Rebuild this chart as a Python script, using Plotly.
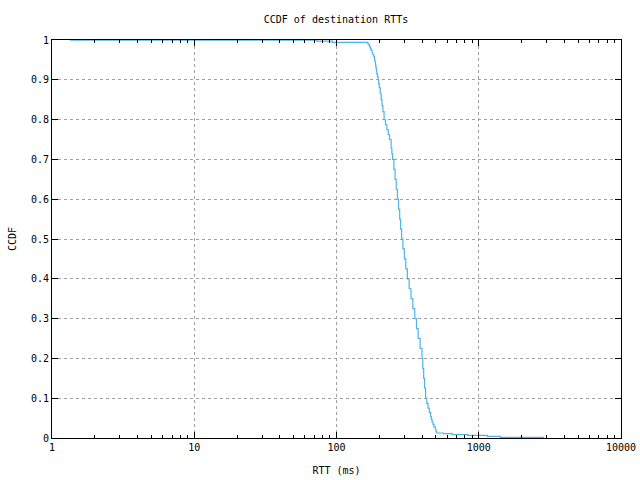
import plotly.graph_objects as go

# RTT (ms) at which the CCDF steps down to the value in ccdf
rtt_ms = [1.34, 72.6, 93.4, 165, 167, 169, 171, 173, 175, 178,
          180, 183, 185, 186, 188, 189, 191, 192, 194, 196,
          198, 200, 203, 206, 209, 212, 216, 221, 226, 231,
          236, 242, 245, 248, 253, 258, 263, 268, 273, 278,
          282, 287, 293, 300, 307, 315, 324, 334, 344, 355,
          365, 375, 387, 399, 404, 410, 416, 423, 431, 440,
          449, 459, 464, 470, 477, 484, 495, 500, 506, 564,
          652, 836, 1148, 1419, 2876]
ccdf = [0.9995, 0.997, 0.994, 0.992, 0.990, 0.987, 0.983, 0.979, 0.974, 0.968,
        0.963, 0.958, 0.952, 0.946, 0.938, 0.93, 0.922, 0.915, 0.908, 0.90,
        0.89, 0.88, 0.865, 0.85, 0.835, 0.82, 0.80, 0.787, 0.775, 0.762,
        0.75, 0.728, 0.714, 0.70, 0.675, 0.65, 0.625, 0.60, 0.575, 0.55,
        0.525, 0.50, 0.475, 0.45, 0.425, 0.40, 0.375, 0.35, 0.325, 0.30,
        0.275, 0.25, 0.225, 0.20, 0.175, 0.15, 0.125, 0.10, 0.087, 0.075,
        0.064, 0.054, 0.047, 0.04, 0.034, 0.028, 0.022, 0.017, 0.0126, 0.011,
        0.0084, 0.0067, 0.0043, 0.0017, 0.0017]

x_tickvals = [1, 10, 100, 1000, 10000]
x_ticktext = ["1", "10", "100", "1000", "10000"]
y_tickvals = [0, 0.1, 0.2, 0.3, 0.4, 0.5, 0.6, 0.7, 0.8, 0.9, 1]
y_ticktext = ["0", "0.1", "0.2", "0.3", "0.4", "0.5", "0.6", "0.7", "0.8", "0.9", "1"]

FONT = "DejaVu Sans Mono"

fig = go.Figure()
fig.add_trace(go.Scatter(x=rtt_ms, y=ccdf, mode="lines",
                         line=dict(color="#4fb3ea", width=1.2, shape="hv"),
                         showlegend=False))

fig.update_layout(
    width=640, height=480,
    margin=dict(l=52, r=19, t=40, b=42, autoexpand=False),
    paper_bgcolor="white", plot_bgcolor="white",
    font=dict(family=FONT, size=10, color="black"),
    title=dict(text="CCDF of destination RTTs", x=0.525, xanchor="center", y=0.96, yanchor="middle",
               font=dict(family=FONT, size=10, color="black")),
)
fig.update_xaxes(
    type="log", range=[0, 4], tickvals=x_tickvals, ticktext=x_ticktext, automargin=False,
    ticks="inside", ticklen=6, tickcolor="black", tickwidth=1,
    showline=True, linecolor="black", linewidth=1, mirror="ticks",
    showgrid=True, gridcolor="#a0a0a0", griddash="3px,3px", gridwidth=1,
    zeroline=False,
    minor=dict(ticks="inside", ticklen=3, tickcolor="black", showgrid=False, dtick="D1"),
    title=dict(text="RTT (ms)", font=dict(family=FONT, size=10), standoff=14),
    tickfont=dict(family=FONT, size=10),
)
fig.update_yaxes(
    range=[0, 1], tickvals=y_tickvals, ticktext=y_ticktext, automargin=False,
    ticks="inside", ticklen=6, tickcolor="black", tickwidth=1,
    showline=True, linecolor="black", linewidth=1, mirror="ticks",
    showgrid=True, gridcolor="#a0a0a0", griddash="3px,3px", gridwidth=1,
    zeroline=False,
    title=dict(text="CCDF", font=dict(family=FONT, size=10), standoff=12),
    tickfont=dict(family=FONT, size=10),
)

fig.write_html("out.html", config={"displayModeBar": False},
               post_script="document.body.style.margin='0';")
